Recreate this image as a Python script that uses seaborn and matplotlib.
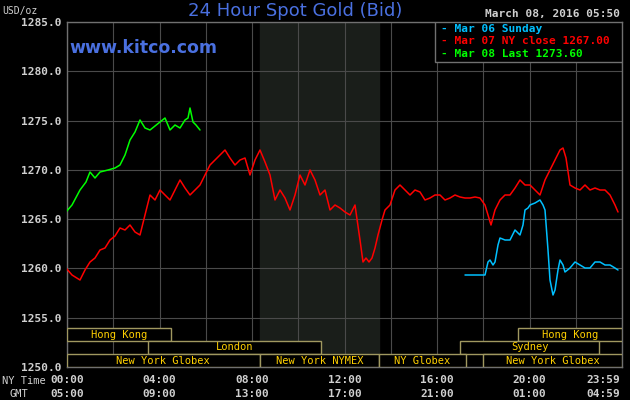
import numpy as np
import pandas as pd
import matplotlib
matplotlib.use("Agg")
import matplotlib.pyplot as plt
import seaborn as sns

W, H = 630, 400
X0, X1, Y0, Y1 = 67, 622, 22, 367  # pixel frame of the plot area


def px_hour(x):
    return (np.asarray(x, float) - X0) / (X1 - X0) * 24


def px_val(y):
    return 1285 - (np.asarray(y, float) - Y0) / (Y1 - Y0) * 35


# series (pixel positions converted to hour / price)
green_x = [66, 72, 80, 86, 90, 95, 100, 108, 115, 120, 125, 130, 135, 140, 145, 150, 155, 160, 165, 170, 175, 180, 185, 188, 190, 193, 196, 200]
green_y = [212, 205, 190, 182, 172, 178, 172, 170, 168, 165, 155, 140, 132, 120, 128, 130, 126, 122, 118, 130, 125, 128, 120, 118, 108, 122, 125, 130]
red_x = [66, 72, 80, 85, 90, 95, 100, 105, 110, 115, 120, 125, 130, 135, 140, 145, 150, 155, 160, 165, 170, 175, 180, 185, 190, 195, 200, 205, 210, 215, 220, 225, 230, 235, 240, 245, 250, 255, 260, 265, 270, 275, 280, 285, 290, 295, 300, 305, 310, 315, 320, 325, 330, 335, 340, 345, 350, 355, 360, 363, 366, 369, 372, 375, 378, 382, 385, 390, 395, 400, 405, 410, 415, 420, 425, 430, 435, 440, 445, 450, 455, 460, 465, 470, 475, 480, 485, 488, 491, 495, 500, 505, 510, 515, 520, 525, 530, 535, 540, 545, 550, 555, 560, 563, 566, 570, 575, 580, 585, 590, 595, 600, 605, 610, 615, 618]
red_y = [268, 275, 280, 270, 262, 258, 250, 248, 240, 236, 228, 230, 225, 232, 235, 215, 195, 200, 190, 195, 200, 190, 180, 188, 195, 190, 185, 175, 165, 160, 155, 150, 158, 165, 160, 158, 175, 160, 150, 162, 175, 200, 190, 198, 210, 195, 175, 185, 170, 180, 195, 190, 210, 205, 208, 212, 215, 205, 240, 262, 258, 262, 258, 248, 235, 220, 210, 205, 190, 185, 190, 195, 190, 192, 200, 198, 195, 195, 200, 198, 195, 197, 198, 198, 197, 198, 205, 215, 225, 210, 200, 195, 195, 188, 180, 185, 185, 190, 195, 180, 170, 160, 150, 148, 158, 185, 188, 190, 185, 190, 188, 190, 190, 195, 205, 212]
cyan_x = [465, 470, 475, 480, 485, 488, 490, 493, 495, 498, 500, 505, 510, 515, 520, 523, 525, 528, 530, 535, 540, 543, 545, 548, 550, 553, 555, 558, 560, 563, 565, 570, 575, 580, 585, 590, 595, 600, 605, 610, 615, 618]
cyan_y = [275, 275, 275, 275, 275, 262, 260, 265, 262, 245, 238, 240, 240, 230, 235, 225, 210, 208, 205, 203, 200, 205, 210, 250, 280, 295, 290, 270, 260, 265, 272, 268, 262, 265, 268, 268, 262, 262, 265, 265, 268, 270]

y_ticks = [1285.0, 1280.0, 1275.0, 1270.0, 1265.0, 1260.0, 1255.0, 1250.0]
ny_labels = ["00:00", "04:00", "08:00", "12:00", "16:00", "20:00", "23:59"]
gmt_labels = ["05:00", "09:00", "13:00", "17:00", "21:00", "01:00", "04:59"]
label_hours = [0, 4, 8, 12, 16, 20, 24]
# (label, start hour, end hour, row) -- row 0 is top
sessions = [("Hong Kong", 0, 4.5, 0), ("Hong Kong", 19.5, 24, 0),
            ("London", 3.5, 11.0, 1), ("Sydney", 17.0, 23.0, 1),
            ("New York Globex", 0, 8.33, 2), ("New York NYMEX", 8.33, 13.5, 2),
            ("NY Globex", 13.5, 17.25, 2), ("New York Globex", 18.0, 24, 2)]

df = pd.concat([
    pd.DataFrame({"hour": px_hour(green_x), "price": px_val(green_y), "s": "Mar 08"}),
    pd.DataFrame({"hour": px_hour(red_x), "price": px_val(red_y), "s": "Mar 07"}),
    pd.DataFrame({"hour": px_hour(cyan_x), "price": px_val(cyan_y), "s": "Mar 06"}),
])
palette = {"Mar 06": "#00c0ff", "Mar 07": "#ff0000", "Mar 08": "#00ff00"}

sns.set_style("dark")
plt.rcParams["font.family"] = ["DejaVu Sans Mono"]
fig = plt.figure(figsize=(W / 100, H / 100), dpi=100, facecolor="black")
ax = fig.add_axes([X0 / W, 1 - Y1 / H, (X1 - X0) / W, (Y1 - Y0) / H], facecolor="black")

ax.axvspan(8.33, 13.5, color="#1a1e1a", zorder=0)
for h in range(0, 25, 2):
    ax.axvline(h, color="#4a4a4a", lw=0.8, zorder=1)
for v in y_ticks:
    ax.axhline(v, color="#4a4a4a", lw=0.8, zorder=1)

sns.lineplot(data=df, x="hour", y="price", hue="s", palette=palette, ax=ax,
             sort=False, estimator=None, lw=1.1, legend=False, zorder=3)

gold = "#a09860"
row_h = 35 / (Y1 - Y0) * 13
for name, a, b, r in sessions:
    bottom = 1250 + (2 - r) * row_h
    ax.add_patch(plt.Rectangle((a, bottom), b - a, row_h, fill=True, fc="black",
                               ec=gold, lw=1, zorder=4))
    ax.text((a + b) / 2, bottom + row_h / 2, name, color="#ffd000", fontsize=7.5,
            ha="center", va="center", zorder=5)

ax.set_xlim(0, 24)
ax.set_ylim(1250, 1285)
ax.set_xticks([])
ax.set_yticks(y_ticks)
ax.set_yticklabels([f"{v:.1f}" for v in y_ticks], color="#d0d0d0", fontsize=8, fontweight="bold")
ax.tick_params(axis="y", length=0, pad=4)
ax.set_xlabel("")
ax.set_ylabel("")
for sp in ax.spines.values():
    sp.set_color("#707070")
    sp.set_linewidth(1)

for h, ny, gmt in zip(label_hours, ny_labels, gmt_labels):
    hh, ha = (23.9, "right") if h == 24 else (h, "center")
    ax.text(hh, 1248.7, ny, color="#d0d0d0", fontsize=8, fontweight="bold",
            ha=ha, va="center")
    ax.text(hh, 1247.3, gmt, color="#d0d0d0", fontsize=8, fontweight="bold",
            ha=ha, va="center")
fig.text(2 / W, 1 - 381 / H, "NY Time", color="#d0d0d0", fontsize=7.5, va="center")
fig.text(10 / W, 1 - 394 / H, "GMT", color="#d0d0d0", fontsize=7.5, va="center")
fig.text(2 / W, 1 - 11 / H, "USD/oz", color="#d0d0d0", fontsize=7, va="center")

fig.text(295 / W, 1 - 11 / H, "24 Hour Spot Gold (Bid)", color="#4a70e0", fontsize=13,
         ha="center", va="center", family="DejaVu Sans")
fig.text(69 / W, 1 - 48 / H, "www.kitco.com", color="#4a70e0", fontsize=12.5,
         va="center", family="DejaVu Sans", fontweight="bold")
fig.text(620 / W, 1 - 14 / H, "March 08, 2016 05:50", color="#d0d0d0", fontsize=8,
         ha="right", va="center", fontweight="bold")

# legend box
ax.add_patch(plt.Rectangle((px_hour(435), px_val(62)), px_hour(X1) - px_hour(435),
                           px_val(22) - px_val(62), fc="black", ec="#707070", lw=1, zorder=6))
legend_rows = [("- Mar 06 Sunday", "#00c0ff", 29), ("- Mar 07 NY close 1267.00", "#ff0000", 41),
               ("- Mar 08 Last 1273.60", "#00ff00", 54)]
for txt, c, y in legend_rows:
    fig.text(441 / W, 1 - y / H, txt, color=c, fontsize=8, fontweight="bold", va="center")

fig.savefig("out.png", dpi=100, facecolor="black")
